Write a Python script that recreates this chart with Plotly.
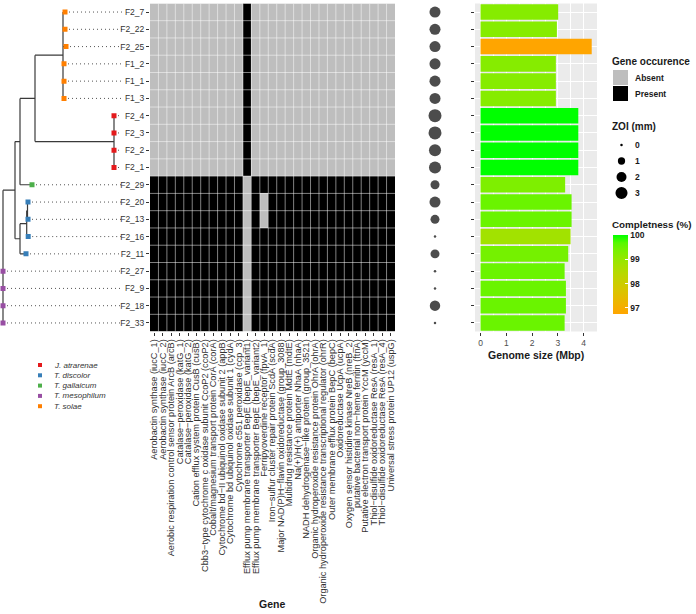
import re
import plotly.graph_objects as go

W, H = 696, 614
FONT = "Liberation Sans, Arial, sans-serif"

# ---------------- data ----------------
strains = ["F2_7", "F2_22", "F2_25", "F1_2", "F1_1", "F1_3", "F2_4", "F2_3", "F2_2", "F2_1",
           "F2_29", "F2_20", "F2_13", "F2_16", "F2_11", "F2_27", "F2_9", "F2_18", "F2_33"]
species = ["T. solae"] * 6 + ["J. atrarenae"] * 4 + ["T. gallaicum"] + ["T. discolor"] * 4 + ["T. mesophilum"] * 4

genes = [
    "Aerobactin synthase (iucC_1)",
    "Aerobactin synthase (iucC_2)",
    "Aerobic respiration control sensor protein ArcB (arcB)",
    "Catalase\u2212peroxidase (katG_1)",
    "Catalase\u2212peroxidase (katG_2)",
    "Cation efflux system protein CusB (cusB)",
    "Cbb3\u2212type cytochrome c oxidase subunit CcoP2 (ccoP2)",
    "Cobalt/magnesium transport protein CorA (corA)",
    "Cytochrome bd\u2212II ubiquinol oxidase subunit 2 (appB)",
    "Cytochrome bd ubiquinol oxidase subunit 1 (cydA)",
    "Cytochrome c551 peroxidase (ccp_3)",
    "Efflux pump membrane transporter BepE (bepE_variant1)",
    "Efflux pump membrane transporter BepE (bepE_variant2)",
    "Ferripyoverdine receptor (fpvA_1)",
    "Iron\u2212sulfur cluster repair protein ScdA (scdA)",
    "Major NAD(P)H\u2212flavin oxidoreductase (group_3088)",
    "Multidrug resistance protein MdtE (mdtE)",
    "Na(+)/H(+) antiporter NhaA (nhaA)",
    "NADH dehydrogenase\u2212like protein (group_3521)",
    "Organic hydroperoxide resistance protein OhrA (ohrA)",
    "Organic hydroperoxide resistance transcriptional regulator (ohrR)",
    "Outer membrane efflux protein BepC (bepC)",
    "Oxidoreductase UcpA (ucpA)",
    "Oxygen sensor histidine kinase NreB (nreB_2)",
    "putative bacterial non\u2212heme ferritin (ftnA)",
    "Putative electron transport protein YccM (yccM)",
    "Thiol\u2212disulfide oxidoreductase ResA (resA_1)",
    "Thiol\u2212disulfide oxidoreductase ResA (resA_4)",
    "Universal stress protein UP12 (uspG)",
]

# gene occurrence per strain (1 = present, 0 = absent), one character per gene
occurrence = [
    "00000000000100000000000000000",
    "00000000000100000000000000000",
    "00000000000100000000000000000",
    "00000000000100000000000000000",
    "00000000000100000000000000000",
    "00000000000100000000000000000",
    "00000000000100000000000000000",
    "00000000000100000000000000000",
    "00000000000100000000000000000",
    "00000000000100000000000000000",
    "11111111111011111111111111111",
    "11111111111010111111111111111",
    "11111111111010111111111111111",
    "11111111111011111111111111111",
    "11111111111011111111111111111",
    "11111111111011111111111111111",
    "11111111111011111111111111111",
    "11111111111011111111111111111",
    "11111111111011111111111111111",
]

zoi_mm = [2.5, 2.5, 2.5, 2.5, 2.5, 2.5, 3.5, 3.5, 3.0, 3.0,
          1.6, 2.5, 1.6, 0.0, 1.6, 0.0, 0.0, 2.2, 0.0]
genome_mbp = [3.01, 2.96, 4.31, 2.92, 2.92, 2.92, 3.79, 3.79, 3.79, 3.79,
              3.28, 3.53, 3.53, 3.49, 3.40, 3.26, 3.31, 3.31, 3.26]
completeness = [99.2, 99.2, 96.75, 99.2, 99.2, 99.2, 100, 100, 100, 100,
                99.3, 99.5, 99.5, 98.8, 99.4, 99.5, 99.5, 99.5, 99.5]

newick = ("(((((F2_7:0.02,F2_22:0.02,F2_25:0.03,F1_2:0.01,F1_1:0.01,F1_3:0.01):0.28,"
          "(F2_4:0,F2_3:0,F2_2:0,F2_1:0):0.79):0.15,F2_29:0.12):0.05,"
          "(((F2_20:0.005,F2_13:0.005):0.008,F2_16:0.015):0.067,F2_11:0.06):0.05):0.12,"
          "F2_27:0,F2_9:0,F2_18:0,F2_33:0);")

species_names = ["J. atrarenae", "T. discolor", "T. gallaicum", "T. mesophilum", "T. solae"]
species_colors = ["#E41A1C", "#377EB8", "#4DAF4A", "#984EA3", "#FF7F00"]
zoi_breaks = [0, 1, 2, 3]
completeness_ticks = [97, 98, 99, 100]
genome_ticks = [0, 1, 2, 3, 4]

# ---------------- helpers ----------------
def px_x(p):
    return p / W

def px_y(p):
    return 1 - p / H

def parse_newick(s):
    pos = 0

    def node():
        nonlocal pos
        children = []
        if s[pos] == "(":
            pos += 1
            while True:
                children.append(node())
                if s[pos] == ",":
                    pos += 1
                    continue
                if s[pos] == ")":
                    pos += 1
                    break
        m = re.match(r"([^:,();]*)(?::([0-9.eE+-]+))?", s[pos:])
        pos += m.end()
        return {"name": m.group(1), "bl": float(m.group(2)) if m.group(2) else 0.0, "children": children}

    return node()

tree = parse_newick(newick)
row_of = {s: i for i, s in enumerate(strains)}

def layout_tree(n, x0):
    n["x"] = x0 + n["bl"]
    if n["children"]:
        for c in n["children"]:
            layout_tree(c, n["x"])
        ys = [c["y"] for c in n["children"]]
        n["y"] = (min(ys) + max(ys)) / 2
    else:
        n["y"] = row_of[n["name"]]

tree["bl"] = 0.0
layout_tree(tree, 0.0)

lx, ly = [], []
tips = []

def collect(n, parent):
    if parent is not None:
        lx.extend([parent["x"], n["x"], None])
        ly.extend([n["y"], n["y"], None])
    if n["children"]:
        ys = [c["y"] for c in n["children"]]
        lx.extend([n["x"], n["x"], None])
        ly.extend([min(ys), max(ys), None])
        for c in n["children"]:
            collect(c, n)
    else:
        tips.append(n)

collect(tree, None)

# Lab interpolation (like ggplot's gradient)
def _lin(c):
    c /= 255
    return c / 12.92 if c <= 0.04045 else ((c + 0.055) / 1.055) ** 2.4

def _delin(c):
    c = c * 12.92 if c <= 0.0031308 else 1.055 * c ** (1 / 2.4) - 0.055
    return max(0, min(255, round(c * 255)))

WP = (0.95047, 1.0, 1.08883)

def hex2lab(h):
    r, g, b = [_lin(int(h[i:i + 2], 16)) for i in (1, 3, 5)]
    X = 0.4124 * r + 0.3576 * g + 0.1805 * b
    Y = 0.2126 * r + 0.7152 * g + 0.0722 * b
    Z = 0.0193 * r + 0.1192 * g + 0.9505 * b
    f = lambda t: t ** (1 / 3) if t > 0.008856 else 7.787 * t + 16 / 116
    fx, fy, fz = f(X / WP[0]), f(Y / WP[1]), f(Z / WP[2])
    return (116 * fy - 16, 500 * (fx - fy), 200 * (fy - fz))

def lab2hex(L, a, b):
    fy = (L + 16) / 116
    fx = fy + a / 500
    fz = fy - b / 200
    fi = lambda t: t ** 3 if t ** 3 > 0.008856 else (t - 16 / 116) / 7.787
    X, Y, Z = fi(fx) * WP[0], fi(fy) * WP[1], fi(fz) * WP[2]
    r = 3.2406 * X - 1.5372 * Y - 0.4986 * Z
    g = -0.9689 * X + 1.8758 * Y + 0.0415 * Z
    bb = 0.0557 * X - 0.2040 * Y + 1.0570 * Z
    return "#%02x%02x%02x" % (_delin(r), _delin(g), _delin(bb))

lo, hi = hex2lab("#FFA500"), hex2lab("#00FF00")
colorscale = []
for k in range(11):
    t = k / 10
    colorscale.append([t, lab2hex(*[lo[i] + (hi[i] - lo[i]) * t for i in range(3)])])

zoi_max = max(zoi_mm)
def zoi_size(v, dmin=2.5, dmax=13.0):
    return (dmin ** 2 + (dmax ** 2 - dmin ** 2) * v / zoi_max) ** 0.5

# ---------------- figure ----------------
rows = list(range(len(strains)))
ydom = [px_y(331.6), px_y(3.4)]
yrange = [len(strains) - 0.5, -0.5]

fig = go.Figure()

# tree
fig.add_trace(go.Scatter(x=lx, y=ly, mode="lines", line=dict(color="#3a3a3a", width=1.2),
                         hoverinfo="skip", xaxis="x", yaxis="y", showlegend=False))
label_x = 1.19
dx, dy = [], []
for t in tips:
    dx.extend([t["x"], label_x, None])
    dy.extend([t["y"], t["y"], None])
fig.add_trace(go.Scatter(x=dx, y=dy, mode="lines", line=dict(color="#555555", width=1, dash="1px,3px"),
                         hoverinfo="skip", xaxis="x", yaxis="y", showlegend=False))
tip_colors = [species_colors[species_names.index(species[row_of[t["name"]]])] for t in tips]
fig.add_trace(go.Scatter(x=[t["x"] for t in tips], y=[t["y"] for t in tips], mode="markers",
                         marker=dict(symbol="square", size=5, color=tip_colors),
                         hoverinfo="skip", xaxis="x", yaxis="y", showlegend=False))

# heatmap
z = [[int(ch) for ch in r] for r in occurrence]
fig.add_trace(go.Heatmap(z=z, x=list(range(len(genes))), y=rows, zmin=0, zmax=1,
                         colorscale=[[0, "#BEBEBE"], [1, "#000000"]], showscale=False,
                         xaxis="x2", yaxis="y2", hoverinfo="skip"))
gx, gy = [], []
for k in range(len(genes) - 1):
    gx.extend([k + 0.5, k + 0.5, None])
    gy.extend([-0.5, len(strains) - 0.5, None])
for k in range(len(strains) - 1):
    gx.extend([-0.5, len(genes) - 0.5, None])
    gy.extend([k + 0.5, k + 0.5, None])
fig.add_trace(go.Scatter(x=gx, y=gy, mode="lines", line=dict(color="rgba(255,255,255,0.5)", width=1),
                         hoverinfo="skip", xaxis="x2", yaxis="y2", showlegend=False))

# ZOI dots
fig.add_trace(go.Scatter(x=[0] * len(strains), y=rows, mode="markers",
                         marker=dict(color="black", size=[zoi_size(v) for v in zoi_mm], line=dict(width=0)),
                         hoverinfo="skip", xaxis="x3", yaxis="y3", showlegend=False))

# genome size bars
fig.add_trace(go.Bar(y=rows, x=genome_mbp, orientation="h", width=0.9,
                     marker=dict(color=completeness, colorscale=colorscale, cmin=96.75, cmax=100,
                                 line=dict(width=0), showscale=True,
                                 colorbar=dict(x=px_x(613), xanchor="left", y=px_y(235), yanchor="top",
                                               len=79, lenmode="pixels", thickness=15, thicknessmode="pixels",
                                               outlinewidth=0, xpad=0, ypad=0, tickvals=completeness_ticks,
                                               ticks="inside", ticklen=3, tickcolor="white",
                                               tickfont=dict(family=FONT, size=8.5, color="#1a1a1a", weight="bold"))),
                     xaxis="x4", yaxis="y4", hoverinfo="skip", showlegend=False))

hidden = dict(visible=False, showgrid=False, zeroline=False, automargin=False)
fig.update_layout(
    width=W, height=H, margin=dict(l=0, r=0, t=0, b=0),
    paper_bgcolor="white", plot_bgcolor="rgba(0,0,0,0)",
    font=dict(family=FONT, color="#333333"),
    showlegend=False,
    xaxis=dict(domain=[0, px_x(150)], range=[-0.03, 1.47], **hidden),
    yaxis=dict(domain=ydom, range=yrange, **hidden),
    xaxis2=dict(domain=[px_x(150), px_x(395)], range=[-0.5, len(genes) - 0.5], anchor="y2",
                tickvals=list(range(len(genes))), ticktext=genes, tickangle=-90,
                ticks="outside", ticklen=3, tickcolor="#333333", showgrid=False, zeroline=False,
                tickfont=dict(size=9.2, color="#333333"), automargin=False),
    yaxis2=dict(domain=ydom, range=yrange, anchor="x2", tickvals=rows, ticktext=strains,
                ticks="outside", ticklen=3, tickcolor="#333333", showgrid=False, zeroline=False,
                tickfont=dict(size=8.5, color="#333333"), automargin=False),
    xaxis3=dict(domain=[px_x(405), px_x(465)], range=[-1, 1], anchor="y3", **hidden),
    yaxis3=dict(domain=ydom, range=yrange, anchor="x3", **hidden),
    xaxis4=dict(domain=[px_x(475), px_x(597)], range=[-0.215, 4.515], anchor="y4",
                tickvals=genome_ticks, ticks="outside", ticklen=3, tickcolor="#333333",
                showgrid=True, gridcolor="white", gridwidth=1, zeroline=False,
                minor=dict(dtick=0.5, showgrid=True, gridcolor="white", gridwidth=0.5),
                tickfont=dict(size=8.5, color="#4d4d4d"), automargin=False),
    yaxis4=dict(domain=ydom, range=yrange, anchor="x4", tickvals=rows, showticklabels=False,
                ticks="outside", ticklen=3, tickcolor="#333333", showgrid=True, gridcolor="white",
                gridwidth=1, zeroline=False, automargin=False),
)

shapes = [dict(type="rect", xref="x4 domain", yref="y4 domain", x0=0, x1=1, y0=0, y1=1,
               fillcolor="#EBEBEB", line=dict(width=0), layer="below")]
annotations = []

def text(px, py, s, size, bold=False, italic=False, anchor="left", color="#1a1a1a"):
    if bold:
        s = "<b>%s</b>" % s
    if italic:
        s = "<i>%s</i>" % s
    annotations.append(dict(x=px_x(px), y=px_y(py), xref="paper", yref="paper", text=s, showarrow=False,
                            xanchor=anchor, yanchor="middle", font=dict(family=FONT, size=size, color=color)))

def rect(x0, y0, x1, y1, color):
    shapes.append(dict(type="rect", xref="paper", yref="paper", x0=px_x(x0), x1=px_x(x1),
                       y0=px_y(y1), y1=px_y(y0), fillcolor=color, line=dict(width=0)))

def circle(cx, cy, d, color):
    r = d / 2
    shapes.append(dict(type="circle", xref="paper", yref="paper", x0=px_x(cx - r), x1=px_x(cx + r),
                       y0=px_y(cy + r), y1=px_y(cy - r), fillcolor=color, line=dict(width=0)))

# species legend
for i, (nm, col) in enumerate(zip(species_names, species_colors)):
    yy = 365 + i * 10.3
    rect(38, yy - 2, 42, yy + 2, col)
    text(52, yy, nm, 8, italic=True, color="#333333")

# gene occurrence legend
text(610, 61, "Gene occurence", 10, bold=True)
rect(613, 70, 628, 85, "#BEBEBE")
rect(613, 86, 628, 101, "#000000")
text(633, 78, "Absent", 8.5, bold=True)
text(633, 94, "Present", 8.5, bold=True)

# ZOI legend
text(610, 127, "ZOI (mm)", 10, bold=True)
for i, b in enumerate(zoi_breaks):
    yy = 145 + i * 16
    circle(621.5, yy, zoi_size(b), "black")
    text(633, yy, str(b), 8.5, bold=True)

# completeness legend title
text(610, 225, "Completness (%)", 9.8, bold=True)

# axis titles
text(272, 604, "Gene", 10.5, bold=True, anchor="center")
text(536, 355, "Genome size (Mbp)", 10.5, bold=True, anchor="center")

fig.update_layout(shapes=shapes, annotations=annotations)
fig.write_html("out.html", config={"displayModeBar": False},
               post_script="document.body.style.margin='0';document.body.style.overflow='hidden';")
